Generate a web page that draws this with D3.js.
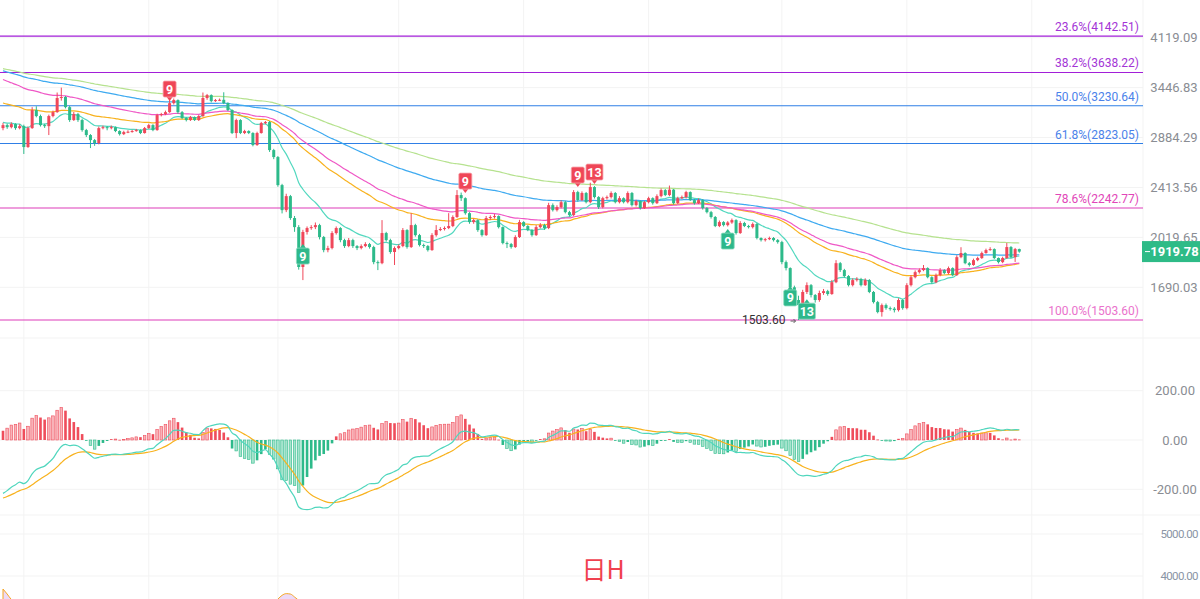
<!DOCTYPE html>
<html>
<head>
<meta charset="utf-8">
<script src="https://cdn.jsdelivr.net/npm/d3@7"></script>
<style>
  body { margin: 0; background: #fff; }
  svg { display: block; font-family: Roboto, "Noto Sans", sans-serif; }
</style>
</head>
<body>
<div id="chart"></div>
<script>
// daily closes (open = previous close)
const firstOpen = 2983;
const closes = [
  3015, 2993, 3026, 2983, 3004, 2788, 2983, 3181, 3114, 3015,
  3004, 3114, 3158, 3321, 3333, 3215, 3070, 3136, 3070, 2962,
  2910, 2858, 2828, 2983, 2993, 2983, 2993, 2952, 2920, 2941,
  2945, 2952, 2962, 2931, 2983, 3015, 2962, 3125, 3136, 3158,
  3261, 3297, 3158, 3092, 3070, 3103, 3070, 3114, 3321, 3356,
  3285, 3297, 3300, 3261, 3181, 2931, 3070, 2931, 2952, 2931,
  2808, 2931, 3037, 3048, 2758, 2690, 2434, 2226, 2340, 2164,
  2095, 1817, 2059, 2088, 2095, 2110, 2022, 1930, 1944, 2051,
  2088, 2000, 1958, 2000, 1958, 1944, 1958, 1972, 1951, 1849,
  1842, 2051, 2000, 1917, 1944, 1958, 2073, 1951, 2110, 2036,
  1965, 1958, 1930, 2036, 2073, 2081, 2088, 2103, 2172, 2349,
  2323, 2202, 2133, 2148, 2073, 2036, 2164, 2172, 2179, 2095,
  1979, 1972, 1951, 2022, 2133, 2103, 2073, 2036, 2095, 2110,
  2088, 2266, 2226, 2250, 2290, 2210, 2187, 2374, 2307, 2366,
  2290, 2417, 2332, 2250, 2323, 2332, 2366, 2290, 2323, 2290,
  2366, 2266, 2299, 2242, 2290, 2323, 2282, 2340, 2391, 2349,
  2395, 2282, 2323, 2332, 2374, 2307, 2282, 2307, 2242, 2210,
  2172, 2103, 2133, 2110, 2130, 2148, 2051, 2126, 2103, 2095,
  2118, 2015, 2000, 2007, 2015, 2000, 1986, 1849, 1810, 1690,
  1615, 1586, 1662, 1703, 1644, 1615, 1656, 1667, 1650, 1721,
  1842, 1797, 1759, 1703, 1734, 1740, 1703, 1734, 1662, 1603,
  1547, 1586, 1569, 1566, 1558, 1615, 1569, 1703, 1752, 1784,
  1797, 1810, 1752, 1721, 1765, 1797, 1778, 1810, 1765, 1882,
  1910, 1842, 1830, 1862, 1876, 1910, 1930, 1937, 1876, 1849,
  1876, 1951, 1882, 1937, 1919.78
];
const highs = [
  3040, 3030, 3045, 3035, 3025, 3020, 3000, 3215, 3225, 3130,
  3030, 3130, 3175, 3387, 3447, 3345, 3230, 3160, 3150, 3085,
  2975, 2920, 2870, 3000, 3010, 3005, 3010, 3000, 2960, 2955,
  2960, 2965, 2975, 2970, 2995, 3030, 3025, 3140, 3150, 3175,
  3320, 3315, 3305, 3170, 3100, 3115, 3110, 3125, 3387, 3370,
  3365, 3310, 3315, 3390, 3270, 3190, 3085, 3080, 2965, 2960,
  2940, 2945, 3050, 3060, 3060, 2770, 2700, 2445, 2360, 2350,
  2180, 2110, 2075, 2100, 2110, 2130, 2120, 2030, 1960, 2065,
  2100, 2095, 2010, 2015, 2010, 1965, 1970, 1985, 1980, 1960,
  1860, 2148, 2060, 2010, 1955, 1970, 2088, 2080, 2202, 2120,
  2045, 1975, 1965, 2050, 2110, 2095, 2100, 2202, 2185, 2391,
  2370, 2330, 2210, 2160, 2155, 2080, 2180, 2185, 2195, 2185,
  2100, 1990, 1980, 2035, 2150, 2140, 2110, 2080, 2110, 2125,
  2120, 2285, 2280, 2265, 2305, 2300, 2220, 2391, 2385, 2380,
  2375, 2455, 2425, 2340, 2335, 2345, 2380, 2375, 2340, 2330,
  2380, 2375, 2310, 2305, 2300, 2335, 2330, 2355, 2405, 2400,
  2430, 2400, 2335, 2345, 2385, 2380, 2315, 2320, 2315, 2250,
  2220, 2180, 2145, 2140, 2140, 2160, 2155, 2140, 2135, 2112,
  2130, 2125, 2020, 2015, 2025, 2022, 2008, 1995, 1860, 1815,
  1700, 1640, 1675, 1720, 1710, 1650, 1670, 1680, 1675, 1735,
  1862, 1850, 1805, 1765, 1745, 1752, 1748, 1745, 1740, 1668,
  1610, 1595, 1595, 1578, 1575, 1625, 1620, 1715, 1765, 1795,
  1808, 1830, 1815, 1758, 1775, 1810, 1803, 1820, 1815, 1895,
  1950, 1915, 1850, 1872, 1885, 1920, 1940, 1950, 1942, 1880,
  1885, 1980, 1958, 1945, 1940
];
const lows = [
  2960, 2975, 2980, 2965, 2970, 2720, 2780, 2975, 3100, 3000,
  2985, 2910, 3100, 3150, 3290, 3200, 3050, 3060, 3050, 2945,
  2890, 2778, 2800, 2815, 2970, 2960, 2970, 2940, 2905, 2910,
  2930, 2935, 2945, 2920, 2925, 2975, 2950, 2955, 3110, 3125,
  3150, 3245, 3140, 3080, 3055, 3060, 3060, 3060, 3105, 3300,
  3270, 3275, 3285, 3250, 3170, 2920, 2878, 2920, 2920, 2920,
  2795, 2800, 2925, 3025, 2740, 2670, 2420, 2200, 2210, 2150,
  2060, 1800, 1734, 2040, 2075, 2080, 2005, 1915, 1915, 1935,
  2040, 1985, 1945, 1950, 1945, 1930, 1935, 1950, 1940, 1835,
  1797, 1835, 1990, 1905, 1830, 1935, 1950, 1940, 1945, 2025,
  1955, 1945, 1920, 1925, 2025, 2065, 2070, 2080, 2095, 2165,
  2300, 2190, 2120, 2120, 2060, 2025, 2030, 2150, 2160, 2085,
  1970, 1944, 1940, 1945, 2015, 2095, 2065, 2025, 2030, 2085,
  2075, 2080, 2215, 2215, 2240, 2200, 2175, 2180, 2295, 2300,
  2280, 2280, 2320, 2235, 2240, 2310, 2320, 2280, 2280, 2280,
  2280, 2255, 2255, 2230, 2235, 2280, 2270, 2275, 2330, 2340,
  2340, 2270, 2275, 2315, 2320, 2300, 2270, 2275, 2230, 2200,
  2160, 2095, 2095, 2100, 2100, 2120, 2040, 2045, 2095, 2085,
  2085, 2005, 1990, 1990, 2000, 1990, 1975, 1835, 1795, 1675,
  1600, 1503.6, 1570, 1650, 1630, 1600, 1605, 1645, 1640, 1645,
  1715, 1785, 1750, 1695, 1695, 1725, 1695, 1698, 1655, 1595,
  1540, 1522, 1560, 1555, 1545, 1550, 1560, 1562, 1695, 1745,
  1775, 1790, 1745, 1712, 1715, 1758, 1770, 1770, 1758, 1760,
  1875, 1835, 1820, 1825, 1855, 1870, 1905, 1925, 1870, 1840,
  1842, 1870, 1875, 1850, 1912
];

const priceTicks = [4119.09, 3446.83, 2884.29, 2413.56, 2019.65, 1690.03];
const macdTicks = [200, 0, -200];
const subTicks = [5000, 4000];
const monthStarts = [5, 35, 66, 95, 125, 155, 187, 217, 247];

const fibNames = ["23.6%", "38.2%", "50.0%", "61.8%", "78.6%", "100.0%"];
const fibValues = [4142.51, 3638.22, 3230.64, 2823.05, 2242.77, 1503.60];
const fibLine = ["#a21fd8", "#a21fd8", "#2f7fe6", "#2f7fe6", "#dd3cb9", "#dd3cb9"];
const fibText = ["#a334d6", "#a334d6", "#4b82ea", "#4b82ea", "#e146b8", "#ea72cc"];

// moving averages: period, value carried in from before the first candle
const maPeriods = [13, 40, 50, 85, 120];
const maSeeds = [3050, 3275, 3570, 3675, 3700];
const maColors = ["#52d8bf", "#f8b21e", "#ef58c6", "#3eaaf0", "#b6e28f"];

// MACD(12,26,9) seeds carried in from history left of the view
const macdSeeds = { fast: 3060, slow: 3290, signal: -240 };

// TD sequential counts: candle index, label, side, price at label centre
const tdIdx = [40, 111, 138, 142, 72, 174, 189, 193];
const tdText = ["9", "9", "9", "13", "9", "9", "9", "13"];
const tdSide = ["up", "up", "up", "up", "dn", "dn", "dn", "dn"];
const tdPrice = [3429, 2469, 2523, 2550, 1889, 1993, 1627, 1552];

// bottom pane: only the tops of two humps reach into view
const subIdx = [[0, 1, 2, 3], [65, 66, 67, 68, 69, 70, 71, 72]];
const subVal = [[3690, 3571, 3440, 3350], [3350, 3450, 3540, 3580, 3570, 3500, 3420, 3350]];

const lastPrice = 1919.78;
const lowIndex = 191;

const W = 1200, H = 599, plotR = 1143;
const UP = "#f0475a", DOWN = "#2dba8a";

const svg = d3.select("#chart").append("svg").attr("width", W).attr("height", H);
const defs = svg.append("defs");
function clip(id, y0, y1) {
  defs.append("clipPath").attr("id", id).append("rect")
    .attr("x", 0).attr("y", y0).attr("width", plotR).attr("height", y1 - y0);
  return svg.append("g").attr("clip-path", `url(#${id})`);
}

const x = d3.scaleLinear().domain([0, closes.length - 1]).range([3, 1019.3]);
const y = d3.scaleLog().domain([priceTicks[0], priceTicks[priceTicks.length - 1]]).range([37.7, 287.3]);
const yM = d3.scaleLinear().domain([200, -200]).range([390.7, 489.3]);
const yS = d3.scaleLinear().domain([5000, 4000]).range([534, 576]);

const opens = closes.map((c, i) => i ? closes[i - 1] : firstOpen);

// grid
const grid = svg.append("g").attr("stroke", "#f3f3f3").attr("stroke-width", 1);
monthStarts.forEach(i => grid.append("line").attr("x1", x(i)).attr("x2", x(i)).attr("y1", 0).attr("y2", H));
priceTicks.forEach(v => grid.append("line").attr("x1", 0).attr("x2", plotR).attr("y1", y(v)).attr("y2", y(v)));
macdTicks.forEach(v => grid.append("line").attr("x1", 0).attr("x2", plotR).attr("y1", yM(v)).attr("y2", yM(v)));
subTicks.forEach(v => grid.append("line").attr("x1", 0).attr("x2", plotR).attr("y1", yS(v)).attr("y2", yS(v)));
[338, 515].forEach(v => grid.append("line").attr("x1", 0).attr("x2", W).attr("y1", v).attr("y2", v));
grid.append("line").attr("x1", plotR).attr("x2", plotR).attr("y1", 0).attr("y2", H);

const main = clip("cMain", 0, 338);

// fib retracement
fibValues.forEach((v, k) => {
  main.append("line").attr("x1", 0).attr("x2", plotR).attr("y1", y(v)).attr("y2", y(v))
    .attr("stroke", fibLine[k]).attr("stroke-width", 1.1);
  svg.append("text").attr("x", 1139).attr("y", y(v) - 5).attr("text-anchor", "end")
    .attr("font-size", 12).attr("fill", fibText[k])
    .text(`${fibNames[k]}(${v.toFixed(2)})`);
});

// moving averages
function ema(vals, period, seed) {
  const a = 2 / (period + 1);
  let e = seed;
  return vals.map(v => (e = e + a * (v - e)));
}
const line = d3.line().x((d, i) => x(i)).y(d => y(d)).curve(d3.curveMonotoneX);
maPeriods.forEach((p, k) => {
  main.append("path").datum(ema(closes, p, maSeeds[k]))
    .attr("d", line).attr("fill", "none").attr("stroke", maColors[k]).attr("stroke-width", 1.2);
});

// candles
const candles = main.append("g");
closes.forEach((c, i) => {
  const o = opens[i];
  const col = c >= o ? UP : DOWN;
  candles.append("line").attr("x1", x(i)).attr("x2", x(i))
    .attr("y1", y(highs[i])).attr("y2", y(lows[i])).attr("stroke", col).attr("stroke-width", 1);
  const top = y(Math.max(o, c)), bot = y(Math.min(o, c));
  candles.append("rect").attr("x", x(i) - 1.5).attr("width", 3)
    .attr("y", top).attr("height", Math.max(1, bot - top)).attr("fill", col);
});

// TD sequential labels
tdIdx.forEach((i, k) => {
  const cx = x(i), cy = y(tdPrice[k]);
  const w = tdText[k].length > 1 ? 17 : 13, h = 16;
  const col = tdSide[k] === "up" ? "#ef4657" : "#2db88b";
  const g = svg.append("g");
  if (tdSide[k] === "up") {
    g.append("path").attr("d", `M${cx - 3},${cy + h / 2}L${cx + 3},${cy + h / 2}L${cx},${cy + h / 2 + 4}Z`).attr("fill", col);
  } else {
    g.append("path").attr("d", `M${cx - 3},${cy - h / 2}L${cx + 3},${cy - h / 2}L${cx},${cy - h / 2 - 4}Z`).attr("fill", col);
  }
  g.append("rect").attr("x", cx - w / 2).attr("y", cy - h / 2).attr("width", w).attr("height", h)
    .attr("rx", 1.5).attr("fill", col).attr("stroke", tdSide[k] === "up" ? "#f7a3ab" : "#8fdcc0").attr("stroke-width", 0.8);
  g.append("text").attr("x", cx).attr("y", cy + 4.5).attr("text-anchor", "middle")
    .attr("font-size", 12.5).attr("font-weight", "bold").attr("fill", "#fff").text(tdText[k]);
});

// lowest low marker
const lx = x(lowIndex), ly = y(lows[lowIndex]);
svg.append("text").attr("x", lx - 13).attr("y", ly + 4).attr("text-anchor", "end")
  .attr("font-size", 12).attr("fill", "#333").text(lows[lowIndex].toFixed(2));
svg.append("path").attr("d", `M${lx - 8},${ly + 1}L${lx - 3},${ly + 1}M${lx - 5},${ly - 1}L${lx - 3},${ly + 1}L${lx - 5},${ly + 3}`)
  .attr("fill", "none").attr("stroke", "#555").attr("stroke-width", 0.9);

// price axis
priceTicks.forEach(v => {
  svg.append("text").attr("x", 1174).attr("y", y(v) + 4.5).attr("text-anchor", "middle")
    .attr("font-size", 13).attr("fill", "#8a8d93").text(v.toFixed(2));
});
const py = y(lastPrice);
svg.append("rect").attr("x", plotR - 1).attr("y", py - 10.5).attr("width", W - plotR + 1).attr("height", 21).attr("fill", "#2ebb87");
svg.append("line").attr("x1", plotR + 2).attr("x2", plotR + 7).attr("y1", py).attr("y2", py).attr("stroke", "#fff");
svg.append("text").attr("x", 1174.5).attr("y", py + 4.5).attr("text-anchor", "middle")
  .attr("font-size", 13).attr("font-weight", "bold").attr("fill", "#fff").text(lastPrice.toFixed(2));

// MACD
const fast = ema(closes, 12, macdSeeds.fast), slow = ema(closes, 26, macdSeeds.slow);
const dif = fast.map((f, i) => f - slow[i]);
const dea = ema(dif, 9, macdSeeds.signal);
const hist = dif.map((d, i) => 2 * (d - dea[i]));

const macd = clip("cMacd", 338, 515);
hist.forEach((h, i) => {
  const prev = i ? hist[i - 1] : 0;
  const growing = Math.abs(h) > Math.abs(prev) && Math.sign(h) === Math.sign(prev);
  const solid = h >= 0 ? "#ef4d5b" : "#2dba8a";
  const light = h >= 0 ? "#f8b3b9" : "#a6e4cd";
  const y0 = yM(0), y1 = yM(h);
  macd.append("rect").attr("x", x(i) - 1.3).attr("width", 2.6)
    .attr("y", Math.min(y0, y1)).attr("height", Math.max(0.8, Math.abs(y1 - y0)))
    .attr("fill", growing ? light : solid).attr("stroke", growing ? solid : "none").attr("stroke-width", 0.6);
});
const mline = d3.line().x((d, i) => x(i)).y(d => yM(d)).curve(d3.curveMonotoneX);
macd.append("path").datum(dea).attr("d", mline).attr("fill", "none").attr("stroke", "#f8b21e").attr("stroke-width", 1.2);
macd.append("path").datum(dif).attr("d", mline).attr("fill", "none").attr("stroke", "#4fd6bd").attr("stroke-width", 1.2);
macdTicks.forEach(v => {
  svg.append("text").attr("x", 1175).attr("y", yM(v) + 4.5).attr("text-anchor", "middle")
    .attr("font-size", 13).attr("fill", "#8a8d93").text(v.toFixed(2));
});

// bottom pane
const sub = clip("cSub", 515, H);
const area = d3.area().x(d => x(d[0])).y0(H + 5).y1(d => yS(d[1])).curve(d3.curveMonotoneX);
subIdx.forEach((idx, k) => {
  const pts = idx.map((i, j) => [i, subVal[k][j]]);
  sub.append("path").datum(pts).attr("d", area).attr("fill", "#ecd9f7").attr("stroke", "#f5a623").attr("stroke-width", 1);
});
subTicks.forEach(v => {
  svg.append("text").attr("x", 1198).attr("y", yS(v) + 4).attr("text-anchor", "end")
    .attr("font-size", 11.5).attr("fill", "#8a95a5").attr("letter-spacing", -0.6).text(v.toFixed(2));
});
svg.append("text").attr("x", 603).attr("y", 579).attr("text-anchor", "middle")
  .attr("font-family", "'Noto Sans CJK SC', sans-serif").attr("font-size", 25).attr("fill", "#f0414f").text("日H");
</script>
</body>
</html>
